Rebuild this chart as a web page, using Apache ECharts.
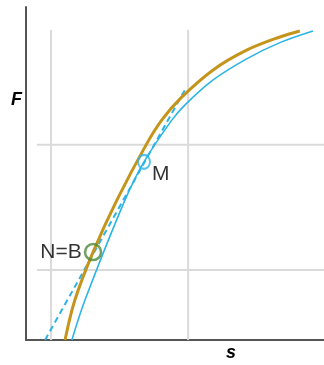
<!DOCTYPE html>
<html>
<head>
<meta charset="utf-8">
<script src="https://cdn.jsdelivr.net/npm/echarts@6/dist/echarts.min.js"></script>
<style>
  html, body { margin: 0; padding: 0; background: #fff; }
  #chart { width: 324px; height: 365px; }
</style>
</head>
<body>
<div id="chart"></div>
<script>
// Force–displacement curves (s on x, F on y), arbitrary units 0..100
const curveN_s = [13.1, 16.4, 22.5, 30.5, 40.3, 45.6, 52.0, 62.8, 74.2, 85.2, 91.9];
const curveN_F = [0.0, 12.0, 26.4, 42.0, 58.6, 66.1, 72.7, 81.1, 87.1, 91.0, 92.8];

const curveM_s = [15.4, 19.8, 33.2, 39.6, 49.0, 53.7, 62.8, 74.2, 85.2, 96.3];
const curveM_F = [0.0, 12.0, 42.0, 53.5, 66.1, 70.9, 78.1, 84.5, 89.3, 92.8];

// Tangent to the M curve at point M
const tangent_s = [6.4, 53.7];
const tangent_F = [0.0, 75.7];

// Marked points
const pointNames = ['N=B', 'M'];
const point_s = [22.5, 39.6];
const point_F = [26.4, 53.5];

// Reference lines
const refS = [8.4, 54.4];
const refSTop = 93.1;
const refF = [21.0, 58.6];
const refFStart = 3.7;

const zip = (a, b) => a.map((v, i) => [v, b[i]]);

const GOLD = '#c5941b';
const BLUE = '#2bb4e6';
const GREEN = '#4e8a3a';
const GRID = '#dadada';
const FONT = '"Liberation Sans", Arial, sans-serif';

const refSeries = [];
refS.forEach(v => refSeries.push({
  type: 'line', data: [[v, 0], [v, refSTop]], symbol: 'none', silent: true,
  lineStyle: { color: GRID, width: 2 }, z: 1
}));
refF.forEach(v => refSeries.push({
  type: 'line', data: [[refFStart, v], [100, v]], symbol: 'none', silent: true,
  lineStyle: { color: GRID, width: 2 }, z: 1
}));

const chart = echarts.init(document.getElementById('chart'), null, { renderer: 'canvas' });
chart.setOption({
  animation: false,
  backgroundColor: '#fff',
  grid: { left: 26, right: 0, top: 7, bottom: 25 },
  xAxis: {
    type: 'value', min: 0, max: 100,
    axisLine: { show: true, onZero: false, lineStyle: { color: '#555', width: 2 } },
    axisTick: { show: false }, axisLabel: { show: false }, splitLine: { show: false }
  },
  yAxis: {
    type: 'value', min: 0, max: 100,
    axisLine: { show: true, onZero: false, lineStyle: { color: '#555', width: 2 } },
    axisTick: { show: false }, axisLabel: { show: false }, splitLine: { show: false }
  },
  graphic: [
    { type: 'text', left: 11, top: 91,
      style: { text: 'F', font: 'italic bold 18px ' + FONT, fill: '#000' } },
    { type: 'text', left: 226, top: 344,
      style: { text: 's', font: 'italic bold 18px ' + FONT, fill: '#000' } }
  ],
  series: [
    ...refSeries,
    {
      type: 'line', data: zip(tangent_s, tangent_F), symbol: 'none', z: 3,
      lineStyle: { color: BLUE, width: 2, type: [6, 4] }
    },
    {
      type: 'line', data: zip(curveM_s, curveM_F), symbol: 'none', smooth: 0.35, z: 3,
      lineStyle: { color: BLUE, width: 1.6 }
    },
    {
      type: 'line', data: zip(curveN_s, curveN_F), symbol: 'none', smooth: 0.35, z: 4,
      lineStyle: { color: GOLD, width: 3 }
    },
    {
      type: 'scatter', z: 5,
      data: [
        {
          name: pointNames[0], value: [point_s[0], point_F[0]], symbolSize: 16,
          itemStyle: { color: 'rgba(0,0,0,0)', borderColor: GREEN, borderWidth: 2.5 },
          label: { show: true, position: 'left', distance: 2, formatter: '{b}',
                   fontSize: 21, color: '#000', fontFamily: FONT }
        },
        {
          name: pointNames[1], value: [point_s[1], point_F[1]], symbolSize: [12, 14],
          itemStyle: { color: 'rgba(0,0,0,0)', borderColor: BLUE, borderWidth: 2 },
          label: { show: true, position: 'right', distance: 1, offset: [0, 12], formatter: '{b}',
                   fontSize: 21, color: '#000', fontFamily: FONT }
        }
      ]
    }
  ]
});
</script>
</body>
</html>
